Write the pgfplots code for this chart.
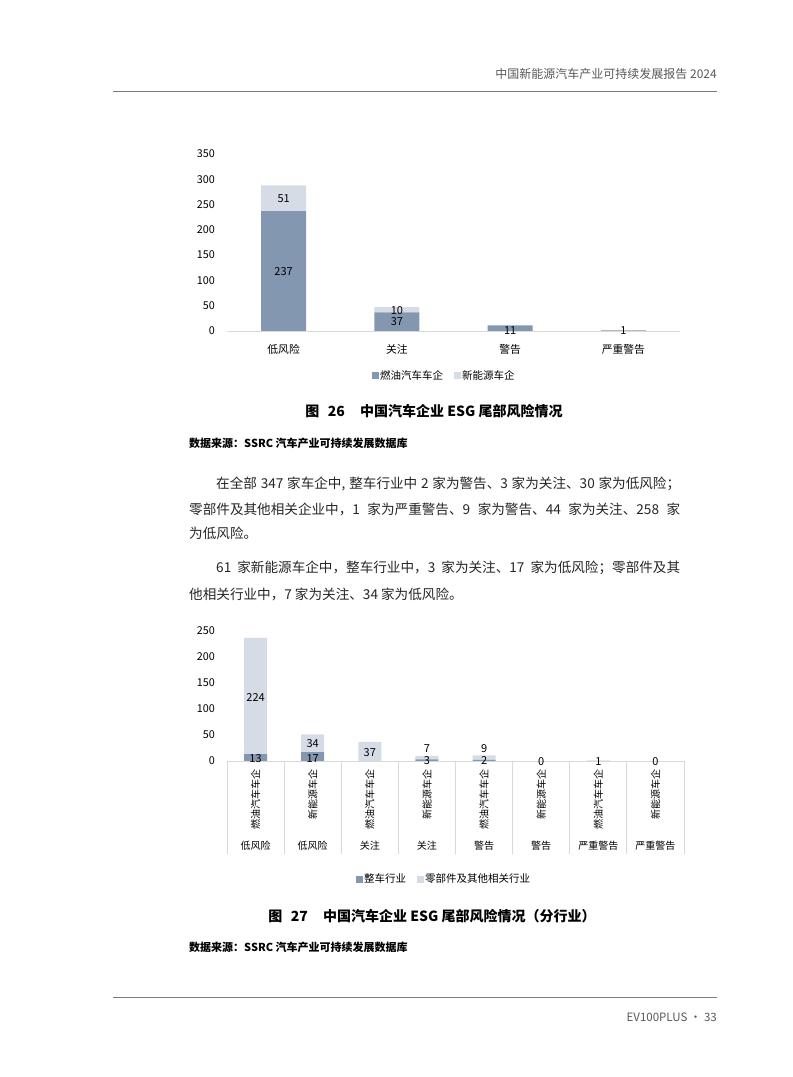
\documentclass[border=0pt]{standalone}
\usepackage{fontspec}
\setmainfont{Noto Sans CJK SC}
\usepackage{graphicx}
\usepackage{pgfplots}
\pgfplotsset{compat=1.18}

\definecolor{ice}{HTML}{8497B0}
\definecolor{frost}{HTML}{D6DCE5}
\definecolor{rule}{HTML}{D9D9D9}
\definecolor{greytext}{HTML}{595959}

\newcommand{\fs}[1]{\fontsize{#1bp}{#1bp}\selectfont}

\pgfplotsset{
  sq legend/.style={
    legend image code/.code={\path[##1, draw=none] (0bp,-3.5bp) rectangle (7bp,3.5bp);},
  },
  page bars/.style={
    scale only axis,
    axis lines*=left,
    y axis line style={draw=none},
    x axis line style={draw=rule, line width=0.8bp},
    major tick length=0pt,
    /pgf/number format/assume math mode=true,
    tick label style={font=\fs{10.8}, inner sep=0pt, text=black},
    yticklabel style={anchor=east, xshift=-12bp},
    legend style={draw=none, legend columns=-1, font=\fs{10.5}, inner sep=0pt,
      nodes={inner sep=1.5bp},
      /tikz/every even column/.append style={column sep=9bp}},
  },
  label layer/.style={
    scale only axis, hide axis, clip=false,
    nodes near coords, point meta=explicit symbolic,
    every node near coord/.append style={anchor=center, font=\fs{11}, text=black, inner sep=0pt},
  },
}

\begin{document}
\begin{tikzpicture}[x=1bp,y=1bp]
\useasboundingbox[fill=white] (0,0) rectangle (793,1077);

% running header
\node[anchor=east, text=greytext, font=\fs{12}, inner sep=0pt] at (717,1003) {中国新能源汽车产业可持续发展报告 2024};
\draw[greytext!80, line width=0.8bp] (113,986) -- (717,986);

% chart 26
\begin{axis}[page bars,
  at={(227bp,746bp)}, anchor=south west, width=453bp, height=177bp,
  xmin=-0.5, xmax=3.5, ymin=0, ymax=350,
  ybar stacked, bar width=45bp,
  xtick={0,1,2,3}, xticklabels={低风险,关注,警告,严重警告},
  ytick={0,50,...,350},
  xticklabel style={anchor=center, yshift=-18bp},
  legend style={at={(0.319,-0.254)}, anchor=west},
]
\addplot[fill=ice, draw=none, sq legend] coordinates {(0,237) (1,37) (2,11) (3,1)};
\addplot[fill=frost, draw=none, sq legend] coordinates {(0,51) (1,10) (2,0) (3,0)};
\legend{燃油汽车车企,新能源车企}
\end{axis}
\begin{axis}[label layer,
  at={(227bp,746bp)}, anchor=south west, width=453bp, height=177bp,
  xmin=-0.5, xmax=3.5, ymin=0, ymax=350]
\addplot[draw=none, mark=none] coordinates {
  (0,117)[237] (0,261)[51] (1,18)[37] (1,40)[10] (2,0.5)[11] (3,0)[1]};
\end{axis}

\node[font=\bfseries\fs{14}, inner sep=0pt] at (434,666) {图\hspace{0.6em}26\hspace{1.1em}中国汽车企业 ESG 尾部风险情况};
\node[anchor=west, font=\bfseries\fs{11}, inner sep=0pt] at (189,634) {数据来源：SSRC 汽车产业可持续发展数据库};

% body text
\begin{scope}[every node/.style={anchor=west, inner sep=0pt, font=\fs{13.6}, text=black!85}]
\node at (216,593) {\makebox[464bp][s]{在全部 347 家车企中, 整车行业中 2 家为警告、3 家为关注、30 家为低风险；}};
\node at (189,568) {\makebox[491bp][s]{零部件及其他相关企业中，1 家为严重警告、9 家为警告、44 家为关注、258 家}};
\node at (189,544) {为低风险。};
\node at (216,509) {\makebox[464bp][s]{61 家新能源车企中，整车行业中，3 家为关注、17 家为低风险；零部件及其}};
\node at (189,483) {他相关行业中，7 家为关注、34 家为低风险。};
\end{scope}

% chart 27
\begin{axis}[page bars,
  at={(227bp,316bp)}, anchor=south west, width=457bp, height=130bp,
  xmin=-0.5, xmax=7.5, ymin=0, ymax=250,
  ybar stacked, bar width=23bp,
  ytick={0,50,...,250},
  xtick={0,...,7},
  xticklabels={\rotatebox{90}{燃油汽车车企},\rotatebox{90}{新能源车企},
    \rotatebox{90}{燃油汽车车企},\rotatebox{90}{新能源车企},
    \rotatebox{90}{燃油汽车车企},\rotatebox{90}{新能源车企},
    \rotatebox{90}{燃油汽车车企},\rotatebox{90}{新能源车企}},
  xticklabel style={anchor=north, yshift=-8bp, font=\fs{10}},
  minor xtick={-0.5,0.5,...,7.5}, minor tick length=93bp, tick align=outside,
  minor x tick style={draw=rule, line width=0.8bp},
  extra x ticks={0,...,7},
  extra x tick labels={低风险,低风险,关注,关注,警告,警告,严重警告,严重警告},
  extra x tick style={xticklabel style={yshift=-72bp}},
  legend style={at={(0.281,-0.908)}, anchor=west},
]
\addplot[fill=ice, draw=none, sq legend] coordinates {(0,13) (1,17) (2,0) (3,3) (4,2) (5,0) (6,0) (7,0)};
\addplot[fill=frost, draw=none, sq legend] coordinates {(0,224) (1,34) (2,37) (3,7) (4,9) (5,0) (6,1) (7,0)};
\legend{整车行业,零部件及其他相关行业}
\end{axis}
\begin{axis}[label layer,
  at={(227bp,316bp)}, anchor=south west, width=457bp, height=130bp,
  xmin=-0.5, xmax=7.5, ymin=0, ymax=250]
\addplot[draw=none, mark=none] coordinates {
  (0,123)[224] (0,4)[13] (1,33)[34] (1,4)[17] (2,17)[37]
  (3,23)[7] (3,0)[3] (4,23)[9] (4,0)[2]
  (5,-2)[0] (6,-2)[1] (7,-2)[0]};
\end{axis}

\node[font=\bfseries\fs{14}, inner sep=0pt] at (432,161) {图\hspace{0.6em}27\hspace{1.1em}中国汽车企业 ESG 尾部风险情况（分行业）};
\node[anchor=west, font=\bfseries\fs{11}, inner sep=0pt] at (189,130) {数据来源：SSRC 汽车产业可持续发展数据库};

% footer
\draw[greytext!80, line width=0.8bp] (113,80) -- (717,80);
\node[anchor=east, text=greytext, font=\fs{11.5}, inner sep=0pt] at (717,60) {EV100PLUS · 33};
\end{tikzpicture}
\end{document}
